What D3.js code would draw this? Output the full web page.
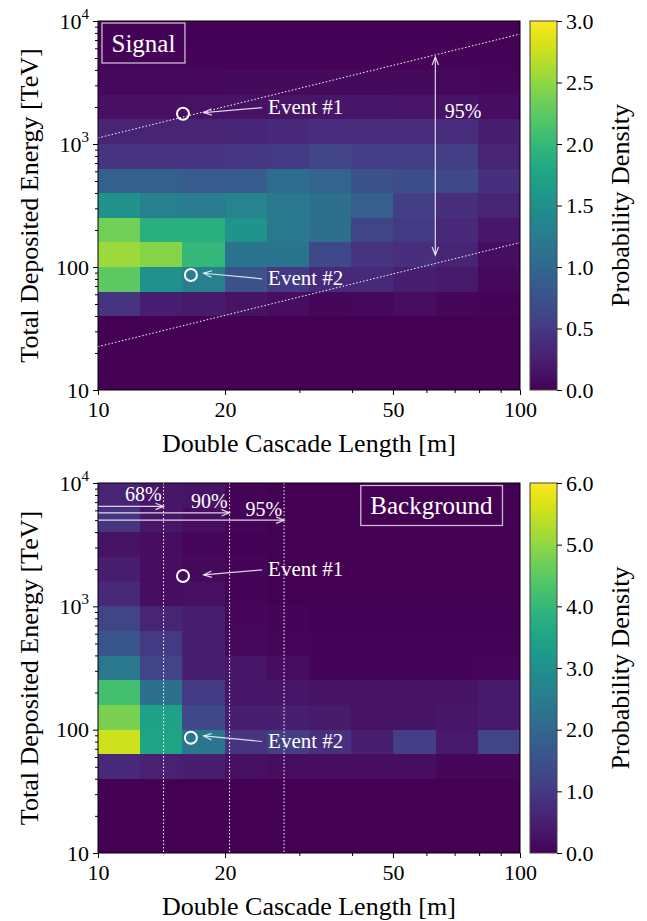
<!DOCTYPE html>
<html><head><meta charset="utf-8">
<script src="https://cdn.jsdelivr.net/npm/d3@7"></script>
<style>
body{margin:0;background:#fff}
text{font-family:"Liberation Serif","Times New Roman",serif}
</style>
</head><body>
<svg id="c" width="647" height="921"></svg>
<script>
// ---------------- DATA ----------------
const lengthEdges = [10, 12.59, 15.85, 19.95, 25.12, 31.62, 39.81, 50.12, 63.10, 79.43, 100];
const energyEdges = [10, 15.85, 25.12, 39.81, 63.10, 100, 158.5, 251.2, 398.1, 631.0, 1000, 1585, 2512, 3981, 6310, 10000];

// rows listed from the highest energy bin (top) to the lowest (bottom)
const signalDensity = [
  [0.02,0.02,0.02,0.02,0.02,0.02,0.02,0.02,0.02,0.02],
  [0.03,0.03,0.03,0.03,0.03,0.03,0.03,0.03,0.03,0.03],
  [0.07,0.07,0.07,0.08,0.08,0.08,0.08,0.08,0.07,0.05],
  [0.12,0.12,0.13,0.14,0.16,0.17,0.17,0.16,0.15,0.10],
  [0.30,0.30,0.30,0.32,0.35,0.38,0.38,0.38,0.38,0.25],
  [0.45,0.45,0.45,0.48,0.50,0.60,0.55,0.55,0.55,0.30],
  [0.90,0.90,0.85,0.85,1.05,0.95,0.75,0.70,0.65,0.40],
  [1.50,1.30,1.25,1.35,1.20,1.10,0.90,0.55,0.40,0.30],
  [2.35,1.90,1.90,1.55,1.20,1.08,0.62,0.50,0.35,0.18],
  [2.55,2.45,2.00,1.15,1.15,0.65,0.45,0.40,0.30,0.10],
  [2.25,1.50,1.30,0.75,0.50,0.35,0.35,0.25,0.20,0.08],
  [0.45,0.25,0.20,0.15,0.10,0.05,0.06,0.10,0.05,0.03],
  [0.01,0.01,0.01,0.01,0.01,0.01,0.01,0.01,0.01,0.01],
  [0.01,0.01,0.01,0.01,0.01,0.01,0.01,0.01,0.01,0.01],
  [0.01,0.01,0.01,0.01,0.01,0.01,0.01,0.01,0.01,0.01]
];
const backgroundDensity = [
  [0.60,0.35,0.30,0.05,0.02,0.02,0.02,0.02,0.02,0.02],
  [0.90,0.35,0.20,0.05,0.02,0.02,0.02,0.02,0.02,0.02],
  [0.30,0.20,0.10,0.03,0.02,0.02,0.02,0.02,0.02,0.02],
  [0.50,0.20,0.15,0.05,0.02,0.02,0.02,0.02,0.02,0.02],
  [0.70,0.20,0.25,0.05,0.02,0.02,0.02,0.02,0.02,0.02],
  [1.20,0.60,0.50,0.10,0.05,0.03,0.03,0.03,0.03,0.03],
  [1.60,1.00,0.50,0.15,0.08,0.05,0.05,0.05,0.05,0.05],
  [2.40,1.20,0.50,0.35,0.20,0.05,0.05,0.05,0.05,0.10],
  [4.20,2.20,1.00,0.35,0.35,0.30,0.30,0.30,0.30,0.40],
  [4.80,3.40,1.30,0.50,0.50,0.40,0.30,0.30,0.35,0.40],
  [5.55,3.50,2.35,0.90,1.10,0.80,0.50,1.10,0.40,1.20],
  [0.70,0.55,0.50,0.25,0.20,0.20,0.20,0.20,0.10,0.10],
  [0.01,0.01,0.01,0.01,0.01,0.01,0.01,0.01,0.01,0.01],
  [0.01,0.01,0.01,0.01,0.01,0.01,0.01,0.01,0.01,0.01],
  [0.01,0.01,0.01,0.01,0.01,0.01,0.01,0.01,0.01,0.01]
];

const xTickValues = [10, 20, 50, 100];
const xTickLabels = ["10", "20", "50", "100"];
const xMinorTicks = [30, 40, 60, 70, 80, 90];
const yTickValues = [10, 100, 1000, 10000];
const yTickBase = ["10", "100", "10", "10"];
const yTickExp = ["", "", "3", "4"];
const yMinorTicks = [20,30,40,50,60,70,80,90,200,300,400,500,600,700,800,900,2000,3000,4000,5000,6000,7000,8000,9000];

const signalCbarTicks = [0, 0.5, 1.0, 1.5, 2.0, 2.5, 3.0];
const signalCbarLabels = ["0.0","0.5","1.0","1.5","2.0","2.5","3.0"];
const backgroundCbarTicks = [0, 1, 2, 3, 4, 5, 6];
const backgroundCbarLabels = ["0.0","1.0","2.0","3.0","4.0","5.0","6.0"];

const eventNames = ["Event #1", "Event #2"];
const eventLength = [15.9, 16.6];
const eventEnergy = [1760, 86];
const eventArrowTipLength = [17.8, 17.8];
const eventArrowTipEnergy = [1800, 89];
const eventTextLength = [25.3, 25.3];
const eventTextEnergy = [1750, 71];

// signal 95% band (two parallel lines in log-log space)
const bandUpperLength = [10, 100];
const bandUpperEnergy = [1120, 7830];
const bandLowerLength = [10, 100];
const bandLowerEnergy = [22.5, 158];
const bandArrowLength = 63;
const bandArrowEnergy = [5100, 125];
const bandLabel = "95%";
const bandLabelLength = 73.3;
const bandLabelEnergy = 1640;

// background containment lengths
const containLabels = ["68%", "90%", "95%"];
const containLength = [14.3, 20.5, 27.6];
const containArrowEnergy = [6460, 5730, 5000];
const containLabelEnergy = [7180, 6270, 5420];

// ---------------- LAYOUT ----------------
const X0 = 98, X1 = 520;
const CB0 = 530, CB1 = 557;
const ANN = "rgba(255,255,255,0.82)";
const svg = d3.select("#c");

const defs = svg.append("defs");
defs.append("marker").attr("id","head").attr("viewBox","-10 -6 12 12")
  .attr("markerWidth",12).attr("markerHeight",12).attr("markerUnits","userSpaceOnUse")
  .attr("refX",0).attr("refY",0).attr("orient","auto-start-reverse")
  .append("path").attr("d","M-8,-3.2 L0,0 L-8,3.2").attr("fill","none")
  .attr("stroke",ANN).attr("stroke-width",1.2);

const grad = defs.append("linearGradient").attr("id","vir")
  .attr("x1",0).attr("y1",1).attr("x2",0).attr("y2",0);
d3.range(0, 1.0001, 0.02).forEach(t => grad.append("stop")
  .attr("offset", t).attr("stop-color", d3.interpolateViridis(t)));

const x = d3.scaleLog().domain([10, 100]).range([X0, X1]);

function panel(cfg) {
  const y = d3.scaleLog().domain([10, 10000]).range([cfg.y1, cfg.y0]);
  const color = d3.scaleSequential(d3.interpolateViridis).domain([0, cfg.vmax]);
  const g = svg.append("g");

  // cells
  const cells = [];
  cfg.data.forEach((row, i) => {
    const bi = energyEdges.length - 2 - i;
    row.forEach((v, j) => cells.push({v, lo: energyEdges[bi], hi: energyEdges[bi + 1], l0: lengthEdges[j], l1: lengthEdges[j + 1]}));
  });
  g.append("g").attr("shape-rendering", "crispEdges").selectAll("rect").data(cells).join("rect")
    .attr("x", d => x(d.l0)).attr("y", d => y(d.hi))
    .attr("width", d => x(d.l1) - x(d.l0))
    .attr("height", d => y(d.lo) - y(d.hi))
    .attr("fill", d => color(d.v));

  const ann = g.append("g");
  cfg.annotate(ann, y);

  // events
  eventNames.forEach((name, i) => {
    ann.append("circle").attr("cx", x(eventLength[i])).attr("cy", y(eventEnergy[i]))
      .attr("r", 6).attr("fill", "none").attr("stroke", "#fff").attr("stroke-width", 2);
    const tx = x(eventTextLength[i]), ty = y(eventTextEnergy[i]);
    ann.append("line").attr("x1", tx - 6).attr("y1", ty - 6.5)
      .attr("x2", x(eventArrowTipLength[i])).attr("y2", y(eventArrowTipEnergy[i]))
      .attr("stroke", ANN).attr("stroke-width", 1.2).attr("marker-end", "url(#head)");
    ann.append("text").attr("x", tx).attr("y", ty).attr("fill", "#fff")
      .attr("font-size", 21).text(name);
  });

  // title box
  const tt = g.append("text").attr("fill", "#fff").attr("font-size", 25).text(cfg.name);
  if (cfg.titleRight) tt.attr("text-anchor", "end").attr("x", X1 - 27.5).attr("y", cfg.y0 + 31);
  else tt.attr("x", X0 + 13.5).attr("y", cfg.y0 + 30.5);
  const bb = tt.node().getBBox();
  g.append("rect").attr("x", bb.x - 9.5).attr("y", bb.y - 6.5)
    .attr("width", bb.width + 19).attr("height", bb.height + 13)
    .attr("fill", "none").attr("stroke", "rgba(255,255,255,0.72)").attr("stroke-width", 1.3);

  // frame
  g.append("rect").attr("x", X0).attr("y", cfg.y0).attr("width", X1 - X0).attr("height", cfg.y1 - cfg.y0)
    .attr("fill", "none").attr("stroke", "#000").attr("stroke-width", 1);

  // axes
  const ax = g.append("g").attr("transform", `translate(0,${cfg.y1})`);
  ax.call(d3.axisBottom(x).tickValues(xTickValues).tickSize(5).tickFormat((d, i) => xTickLabels[i]).tickPadding(6));
  ax.append("g").call(d3.axisBottom(x).tickValues(xMinorTicks).tickSize(3).tickFormat(""));
  ax.selectAll(".domain").remove();
  ax.selectAll("text").attr("font-size", 22).attr("font-family", "Liberation Serif").attr("fill", "#000");

  const ay = g.append("g").attr("transform", `translate(${X0},0)`);
  ay.call(d3.axisLeft(y).tickValues(yTickValues).tickSize(5).tickFormat(""));
  ay.append("g").call(d3.axisLeft(y).tickValues(yMinorTicks).tickSize(3).tickFormat(""));
  ay.selectAll(".domain").remove();
  yTickValues.forEach((v, i) => {
    const t = g.append("text").attr("x", X0 - 9).attr("y", y(v) + 7.5)
      .attr("text-anchor", "end").attr("font-size", 22);
    t.append("tspan").text(yTickBase[i]);
    if (yTickExp[i]) t.append("tspan").attr("font-size", 15).attr("dy", -10).text(yTickExp[i]);
  });

  g.append("text").attr("x", (X0 + X1) / 2).attr("y", cfg.y1 + 62).attr("text-anchor", "middle")
    .attr("font-size", 26).text("Double Cascade Length [m]");
  g.append("text").attr("transform", `translate(38,${(cfg.y0 + cfg.y1) / 2}) rotate(-90)`)
    .attr("text-anchor", "middle").attr("font-size", 26).text("Total Deposited Energy [TeV]");

  // colorbar
  const cy = d3.scaleLinear().domain([0, cfg.vmax]).range([cfg.y1, cfg.y0]);
  g.append("rect").attr("x", CB0).attr("y", cfg.y0).attr("width", CB1 - CB0).attr("height", cfg.y1 - cfg.y0)
    .attr("fill", "url(#vir)").attr("stroke", "#444").attr("stroke-width", 1);
  const ac = g.append("g").attr("transform", `translate(${CB1},0)`);
  ac.call(d3.axisRight(cy).tickValues(cfg.cbTicks).tickSize(5).tickPadding(4).tickFormat((d, i) => cfg.cbLabels[i]));
  ac.selectAll(".domain").remove();
  ac.selectAll("text").attr("font-size", 22).attr("font-family", "Liberation Serif").attr("fill", "#000");
  g.append("text").attr("transform", `translate(629,${(cfg.y0 + cfg.y1) / 2}) rotate(-90)`)
    .attr("text-anchor", "middle").attr("font-size", 26).text("Probability Density");
}

panel({y0: 21, y1: 390, data: signalDensity, vmax: 3, cbTicks: signalCbarTicks, cbLabels: signalCbarLabels,
  name: "Signal", titleRight: false,
  annotate: (a, y) => {
    const line = d3.line().x(d => x(d[0])).y(d => y(d[1]));
    a.append("path").attr("d", line(bandUpperLength.map((l, i) => [l, bandUpperEnergy[i]])))
      .attr("stroke", "#fff").attr("stroke-width", 1).attr("stroke-dasharray", "1.5,2").attr("fill", "none");
    a.append("path").attr("d", line(bandLowerLength.map((l, i) => [l, bandLowerEnergy[i]])))
      .attr("stroke", "#fff").attr("stroke-width", 1).attr("stroke-dasharray", "1.5,2").attr("fill", "none");
    a.append("line").attr("x1", x(bandArrowLength)).attr("x2", x(bandArrowLength))
      .attr("y1", y(bandArrowEnergy[0])).attr("y2", y(bandArrowEnergy[1]))
      .attr("stroke", ANN).attr("stroke-width", 1.2)
      .attr("marker-start", "url(#head)").attr("marker-end", "url(#head)");
    a.append("text").attr("x", x(bandLabelLength)).attr("y", y(bandLabelEnergy)).attr("text-anchor", "middle")
      .attr("fill", "#fff").attr("font-size", 20).text(bandLabel);
  }});

panel({y0: 483, y1: 853, data: backgroundDensity, vmax: 6, cbTicks: backgroundCbarTicks, cbLabels: backgroundCbarLabels,
  name: "Background", titleRight: true,
  annotate: (a, y) => {
    containLength.forEach((L, i) => {
      a.append("line").attr("x1", x(L)).attr("x2", x(L)).attr("y1", y(10000)).attr("y2", y(10))
        .attr("stroke", "#fff").attr("stroke-width", 1).attr("stroke-dasharray", "1.5,2");
      a.append("line").attr("x1", x(10)).attr("x2", x(L)).attr("y1", y(containArrowEnergy[i])).attr("y2", y(containArrowEnergy[i]))
        .attr("stroke", ANN).attr("stroke-width", 1.2).attr("marker-end", "url(#head)");
      a.append("text").attr("x", x(L) - 2).attr("y", y(containLabelEnergy[i])).attr("text-anchor", "end")
        .attr("fill", "#fff").attr("font-size", 20).text(containLabels[i]);
    });
  }});
</script>
</body></html>
